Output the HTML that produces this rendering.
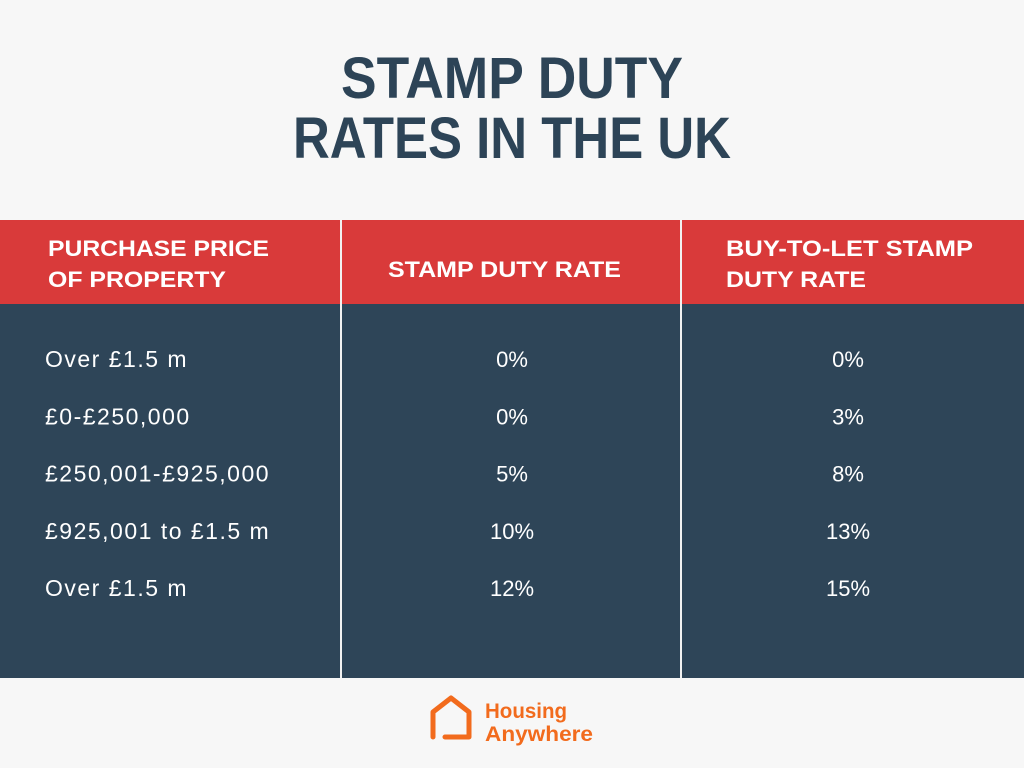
<!DOCTYPE html>
<html><head><meta charset="utf-8"><style>
html,body{margin:0;padding:0;background:#f7f7f7;}
svg{display:block;font-family:"Liberation Sans",sans-serif;}
</style></head><body>
<svg width="1024" height="768" viewBox="0 0 1024 768">
<rect width="1024" height="768" fill="#f7f7f7"/>
<g fill="#2d4457" font-weight="bold" font-size="58" text-anchor="middle">
<text x="512" y="98" textLength="342" lengthAdjust="spacingAndGlyphs">STAMP DUTY</text>
<text x="512" y="158" textLength="438" lengthAdjust="spacingAndGlyphs">RATES IN THE UK</text>
</g>
<rect x="0" y="220" width="1024" height="84" fill="#d93a3a"/>
<rect x="0" y="304" width="1024" height="374" fill="#2e4558"/>
<rect x="340" y="220" width="2" height="458" fill="#f2f2f2"/>
<rect x="680" y="220" width="2" height="458" fill="#f2f2f2"/>
<g fill="#fff" font-weight="bold" font-size="22">
<text x="48" y="256" textLength="221" lengthAdjust="spacingAndGlyphs">PURCHASE PRICE</text>
<text x="48" y="287" textLength="178" lengthAdjust="spacingAndGlyphs">OF PROPERTY</text>
<text x="388" y="277" textLength="233" lengthAdjust="spacingAndGlyphs">STAMP DUTY RATE</text>
<text x="726" y="256" textLength="247" lengthAdjust="spacingAndGlyphs">BUY-TO-LET STAMP</text>
<text x="726" y="287" textLength="140" lengthAdjust="spacingAndGlyphs">DUTY RATE</text>
</g>
<g id="rows" fill="#fff" font-size="22"></g>
<g>
<path d="M433 737 L433 712 L451 698 L469 712 L469 737 L445 737" fill="none" stroke="#f26b1d" stroke-width="5" stroke-linejoin="round" stroke-linecap="round"/>
<g fill="#f26b1d" font-weight="bold" font-size="21">
<text x="485" y="718" textLength="82" lengthAdjust="spacingAndGlyphs">Housing</text>
<text x="485" y="741" textLength="108" lengthAdjust="spacingAndGlyphs">Anywhere</text>
</g>
</g>
</svg>
<script>
const prices=["Over £1.5 m","£0-£250,000","£250,001-£925,000","£925,001 to £1.5 m","Over £1.5 m"];
const rates=["0%","0%","5%","10%","12%"];
const btlRates=["0%","3%","8%","13%","15%"];
const g=document.getElementById('rows');
const NS='http://www.w3.org/2000/svg';
function mk(txt,x,y,anchor,name,ls){
  const t=document.createElementNS(NS,'text');
  t.setAttribute('x',x);t.setAttribute('y',y);t.setAttribute('text-anchor',anchor);
  if(ls){t.setAttribute('font-size','23');t.setAttribute('letter-spacing',ls);}
  t.textContent=txt;
  
  
  g.appendChild(t);
}
prices.forEach((p,i)=>{
  const y=367+i*57.3;
  mk(p,45,y,'start','purchase-price-'+(i+1),'1.5');
  mk(rates[i],512,y,'middle','stamp-duty-rate-'+(i+1));
  mk(btlRates[i],848,y,'middle','buy-to-let-rate-'+(i+1));
});
</script>
</body></html>
